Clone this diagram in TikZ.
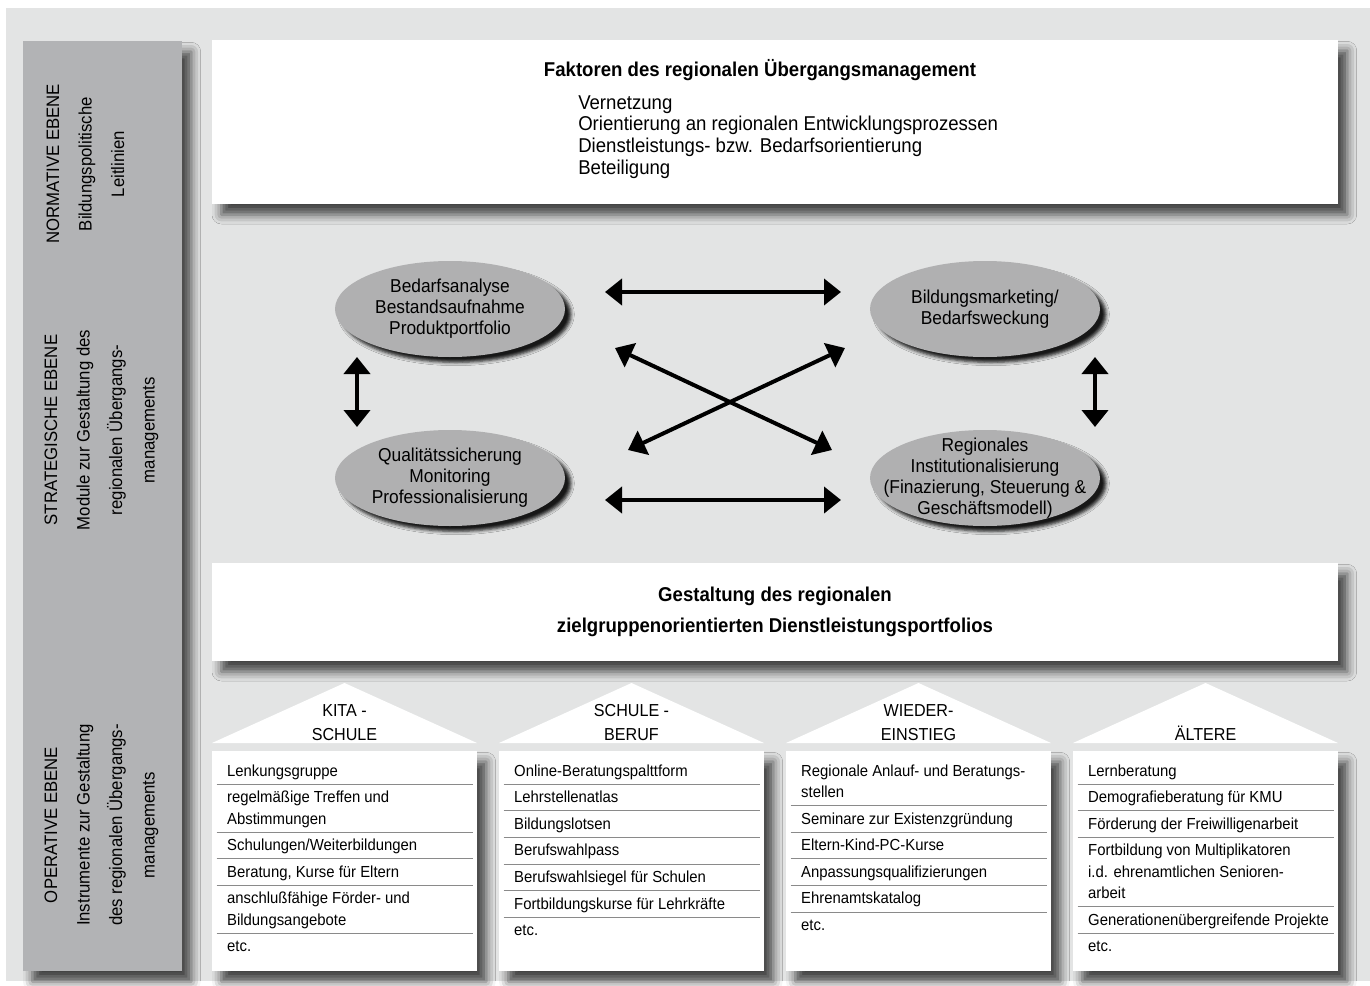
\documentclass[tikz,border=0pt]{standalone}
\usepackage{fontspec}
\setmainfont{Liberation Sans}[FakeStretch=0.93]
\usepackage{colortbl}
\usetikzlibrary{shapes.geometric,arrows.meta,shadows.blur,positioning}

\definecolor{hintergrund}{HTML}{E3E4E4}
\definecolor{ebenengrau}{HTML}{B2B3B5}
\definecolor{modulgrau}{HTML}{B0B0B1}
\definecolor{trennlinie}{HTML}{8A8A8A}

\renewcommand{\arraystretch}{1.2}
\setlength{\arrayrulewidth}{0.75pt}
\arrayrulecolor{trennlinie}

\tikzset{
	schatten/.style={blur shadow={shadow xshift=7pt,shadow yshift=-8pt,shadow blur radius=7pt,shadow opacity=70}},
	ebene/.style={fill=ebenengrau,anchor=north west,inner sep=0pt,outer sep=0pt,minimum width=119.25pt,minimum height=697.5pt,schatten},
	ebenentext/.style={rotate=90,align=center,inner sep=0pt,font=\fontsize{13.5}{24.4}\selectfont},
	weissbox/.style={fill=white,anchor=north west,inner sep=0pt,outer sep=0pt,minimum width=844.5pt,schatten},
	modul/.style={ellipse,fill=modulgrau,minimum width=172.5pt,minimum height=72pt,inner sep=0pt,
		blur shadow={shadow xshift=4.5pt,shadow yshift=-4pt,shadow blur radius=2.5pt,shadow opacity=90}},
	modultext/.style={align=center,inner sep=0pt,font=\fontsize{14}{15.75}\selectfont},
	pfeil/.style={line width=3pt,>={Triangle[length=12.75pt,width=19.5pt]},<->},
	listbox/.style={fill=white,anchor=north west,inner sep=0pt,outer sep=0pt,minimum width=198.75pt,minimum height=165pt,schatten},
	etikett/.style={anchor=south,align=center,inner sep=0pt,font=\fontsize{13}{18}\selectfont},
	liste/.style={anchor=north,inner sep=0pt,font=\fontsize{12}{16}\selectfont},
}

\begin{document}
\begin{tikzpicture}[x=0.75pt,y=-0.75pt]
	\useasboundingbox (0,0) rectangle (1370,985);
	\fill[hintergrund] (6,8) rectangle (1370,981);

	\node[ebene] (ebenen) at (23,41) {};
	\node[ebenentext] (normativ) at (85.5,164) {NORMATIVE EBENE\\Bildungspolitische\\Leitlinien};
	\node[ebenentext] (strategisch) at (101.5,430) {STRATEGISCHE EBENE\\Module zur Gestaltung des\\regionalen Übergangs-\\managements};
	\node[ebenentext] (operativ) at (101.5,825) {OPERATIVE EBENE\\Instrumente zur Gestaltung\\des regionalen Übergangs-\\managements};

	\node[weissbox,minimum height=123pt] (faktoren) at (212,40) {};
	\node[anchor=base,inner sep=0pt,font=\fontsize{15}{16.3}\selectfont\bfseries] (faktortitel) at (760,76) {Faktoren des regionalen Übergangsmanagement};
	\node[anchor=north west,align=left,inner sep=0pt,font=\fontsize{15}{16.3}\selectfont] (faktorliste) at (578,95) {Vernetzung\\Orientierung an regionalen Entwicklungsprozessen\\Dienstleistungs- bzw. Bedarfsorientierung\\Beteiligung};

	\node[weissbox,minimum height=73.5pt,align=center,font=\fontsize{15}{23.25}\selectfont\bfseries] (gestaltung) at (212,563) {Gestaltung des regionalen\\zielgruppenorientierten Dienstleistungsportfolios};

	\node[modul] (bedarf) at (450,309) {};
	\node[modultext] (bedarftext) at (bedarf) {Bedarfsanalyse\\Bestandsaufnahme\\Produktportfolio};
	\node[modul] (marketing) at (985,309) {};
	\node[modultext] (marketingtext) at (marketing) {Bildungsmarketing/\\Bedarfsweckung};
	\node[modul] (qualitaet) at (450,478) {};
	\node[modultext] (qualitaettext) at (qualitaet) {Qualitätssicherung\\Monitoring\\Professionalisierung};
	\node[modul] (institution) at (985,478) {};
	\node[modultext] (institutiontext) at (institution) {Regionales\\Institutionalisierung\\(Finazierung, Steuerung \&\\Geschäftsmodell)};

	\coordinate (obenlinks) at (605,292);
	\coordinate (obenrechts) at (841,292);
	\coordinate (untenlinks) at (605,500);
	\coordinate (untenrechts) at (841,500);
	\coordinate (linksoben) at (357,357);
	\coordinate (linksunten) at (357,427);
	\coordinate (rechtsoben) at (1095,357);
	\coordinate (rechtsunten) at (1095,427);
	\coordinate (kreuzA1) at (615,348);
	\coordinate (kreuzA2) at (832,450);
	\coordinate (kreuzB1) at (628,450);
	\coordinate (kreuzB2) at (845,348);
	\draw[pfeil] (obenlinks) -- (obenrechts);
	\draw[pfeil] (untenlinks) -- (untenrechts);
	\draw[pfeil] (linksoben) -- (linksunten);
	\draw[pfeil] (rechtsoben) -- (rechtsunten);
	\draw[pfeil] (kreuzA1) -- (kreuzA2);
	\draw[pfeil] (kreuzB1) -- (kreuzB2);

	\node[listbox] (kitabox) at (212,751) {};
	\node[listbox,right=16.5pt of kitabox] (berufbox) {};
	\node[listbox,right=16.5pt of berufbox] (einstiegbox) {};
	\node[listbox,right=16.5pt of einstiegbox] (aelterebox) {};

	\fill[white] ([yshift=6pt]kitabox.north west) -- ([yshift=51pt]kitabox.north) -- ([yshift=6pt]kitabox.north east) -- cycle;
	\fill[white] ([yshift=6pt]berufbox.north west) -- ([yshift=51pt]berufbox.north) -- ([yshift=6pt]berufbox.north east) -- cycle;
	\fill[white] ([yshift=6pt]einstiegbox.north west) -- ([yshift=51pt]einstiegbox.north) -- ([yshift=6pt]einstiegbox.north east) -- cycle;
	\fill[white] ([yshift=6pt]aelterebox.north west) -- ([yshift=51pt]aelterebox.north) -- ([yshift=6pt]aelterebox.north east) -- cycle;

	\node[etikett] (kitalabel) at ([yshift=7.5pt]kitabox.north) {KITA -\\SCHULE};
	\node[etikett] (beruflabel) at ([yshift=7.5pt]berufbox.north) {SCHULE -\\BERUF};
	\node[etikett] (einstieglabel) at ([yshift=7.5pt]einstiegbox.north) {WIEDER-\\EINSTIEG};
	\node[etikett] (aelterelabel) at ([yshift=7.5pt]aelterebox.north) {ÄLTERE};

	\node[liste] (kitaliste) at ([yshift=-5.25pt]kitabox.north) {\begin{tabular}{@{\hspace{8pt}}p{184pt}@{}}
		Lenkungsgruppe\\\hline
		regelmäßige Treffen und\newline Abstimmungen\\\hline
		Schulungen/Weiterbildungen\\\hline
		Beratung, Kurse für Eltern\\\hline
		anschlußfähige Förder- und\newline Bildungsangebote\\\hline
		etc.
	\end{tabular}};
	\node[liste] (berufliste) at ([yshift=-5.25pt]berufbox.north) {\begin{tabular}{@{\hspace{8pt}}p{184pt}@{}}
		Online-Beratungspalttform\\\hline
		Lehrstellenatlas\\\hline
		Bildungslotsen\\\hline
		Berufswahlpass\\\hline
		Berufswahlsiegel für Schulen\\\hline
		Fortbildungskurse für Lehrkräfte\\\hline
		etc.
	\end{tabular}};
	\node[liste] (einstiegliste) at ([yshift=-5.25pt]einstiegbox.north) {\begin{tabular}{@{\hspace{8pt}}p{184pt}@{}}
		Regionale Anlauf- und Beratungs-\newline stellen\\\hline
		Seminare zur Existenzgründung\\\hline
		Eltern-Kind-PC-Kurse\\\hline
		Anpassungsqualifizierungen\\\hline
		Ehrenamtskatalog\\\hline
		etc.
	\end{tabular}};
	\node[liste] (aelterliste) at ([yshift=-5.25pt]aelterebox.north) {\begin{tabular}{@{\hspace{8pt}}p{184pt}@{}}
		Lernberatung\\\hline
		Demografieberatung für KMU\\\hline
		Förderung der Freiwilligenarbeit\\\hline
		Fortbildung von Multiplikatoren\newline i.d. ehrenamtlichen Senioren-\newline arbeit\\\hline
		Generationenübergreifende Projekte\\\hline
		etc.
	\end{tabular}};
\end{tikzpicture}
\end{document}
